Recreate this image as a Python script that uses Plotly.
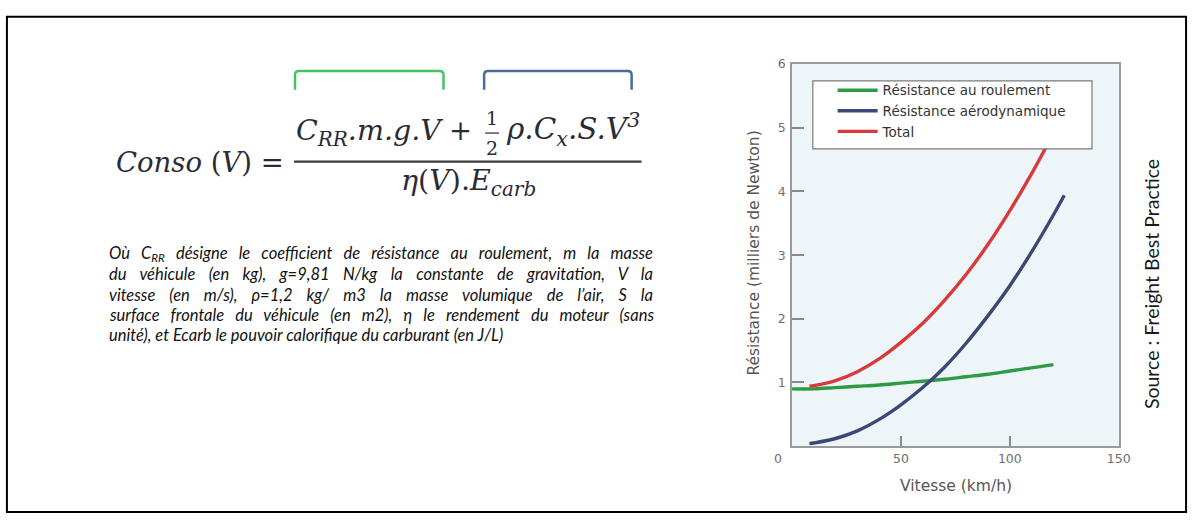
import plotly.graph_objects as go

# ---------------- data ----------------
speed_roll = [0, 10, 20, 30, 40, 50, 60, 70, 80, 90, 100, 110, 120]
roll = [0.90, 0.90, 0.92, 0.94, 0.96, 0.99, 1.02, 1.05, 1.09, 1.13, 1.18, 1.23, 1.28]

speed_aero = [8, 10, 20, 30, 40, 50, 60, 70, 80, 90, 100, 110, 120, 125]
aero = [0.04, 0.05, 0.12, 0.24, 0.42, 0.65, 0.92, 1.24, 1.62, 2.05, 2.52, 3.05, 3.63, 3.94]

speed_total = [8, 10, 20, 30, 40, 50, 60, 70, 80, 90, 100, 110, 120]
total = [0.94, 0.95, 1.03, 1.17, 1.37, 1.63, 1.93, 2.29, 2.70, 3.17, 3.70, 4.28, 4.91]

series_names = ["Résistance au roulement", "Résistance aérodynamique", "Total"]
series_colors = ["#2f9a45", "#3c4778", "#d83a3c"]

x_ticks = [50, 100, 150]
y_ticks = [1, 2, 3, 4, 5, 6]

x_title = "Vitesse (km/h)"
y_title = "Résistance (milliers de Newton)"
source_text = "Source : Freight Best Practice"

paragraph_lines = [
    "Où C<sub>RR</sub> désigne le coefficient de résistance au roulement, m la masse",
    "du véhicule (en kg), g=9,81 N/kg la constante de gravitation, V la",
    "vitesse (en m/s), ρ=1,2 kg/ m3 la masse volumique de l’air, S la",
    "surface frontale du véhicule (en m2), η le rendement du moteur (sans",
    "unité), et Ecarb le pouvoir calorifique du carburant (en J/L)",
]

# ---------------- helpers (pixel -> paper) ----------------
W, H = 1204, 520
def px(x):
    return x / W
def py(y):
    return 1 - y / H

fig = go.Figure()
for xs, ys, name, color in zip([speed_roll, speed_aero, speed_total],
                               [roll, aero, total], series_names, series_colors):
    fig.add_trace(go.Scatter(x=xs, y=ys, mode="lines", name=name,
                             line=dict(color=color, width=3.4, shape="spline")))

sans = "DejaVu Sans, Liberation Sans, Arial, sans-serif"
axis_font = dict(family=sans, size=12.5, color="#6e6e6e")

fig.update_layout(
    width=W, height=H, autosize=False,
    margin=dict(l=0, r=0, t=0, b=0),
    paper_bgcolor="white",
    plot_bgcolor="#eef5f8",
    showlegend=True,
    legend=dict(x=px(841), y=py(68), xanchor="left", yanchor="top",
                bgcolor="rgba(0,0,0,0)", borderwidth=0, itemwidth=40,
                font=dict(family=sans, size=13.5, color="#333333"),
                tracegroupgap=0),
    xaxis=dict(domain=[px(800), px(1130)], range=[0, 150], tickvals=x_ticks,
               ticks="inside", ticklen=10, tickwidth=1.5, tickcolor="#8a8a8a",
               showline=True, mirror=True, linecolor="#9a9a9a", linewidth=1.5,
               showgrid=False, zeroline=False, tickfont=axis_font,
               ticklabelstandoff=0, fixedrange=True),
    yaxis=dict(domain=[py(445), py(57)], range=[0, 6], tickvals=y_ticks,
               ticks="inside", ticklen=12, tickwidth=1.5, tickcolor="#8a8a8a",
               showline=True, mirror=True, linecolor="#9a9a9a", linewidth=1.5,
               showgrid=False, zeroline=False, tickfont=axis_font,
               ticklabelstandoff=2, fixedrange=True),
)

shapes = []
annotations = []

# paragraph first (indices 0..4, used by the justification script)
pfont = dict(family="Lato, Open Sans, sans-serif", size=16.5, color="#111111")
line_y = [249, 270, 291, 311.5, 332]
for txt, yy in zip(paragraph_lines, line_y):
    annotations.append(dict(text=f"<i>{txt}</i>", xref="paper", yref="paper",
                            x=px(108), y=py(yy), showarrow=False, xanchor="left",
                            align="left", yanchor="middle", font=pfont))

# outer frame
shapes.append(dict(type="rect", xref="paper", yref="paper",
                   x0=px(7), x1=px(1198), y0=py(512), y1=py(9),
                   line=dict(color="black", width=2), layer="below"))

# legend box (drawn above the traces, legend text on top)
shapes.append(dict(type="rect", xref="paper", yref="paper",
                   x0=px(821), x1=px(1103), y0=py(143), y1=py(74),
                   line=dict(color="#7a7a7a", width=1.2), fillcolor="white", layer="above"))

# axis titles and origin label
title_font = dict(family=sans, size=15.5, color="#555555")
annotations.append(dict(text=x_title, xref="paper", yref="paper", x=px(966), y=py(485),
                        showarrow=False, xanchor="center", yanchor="middle", font=title_font))
annotations.append(dict(text=y_title, xref="paper", yref="paper", x=px(762), y=py(249),
                        showarrow=False, textangle=-90, xanchor="center", yanchor="middle",
                        font=title_font))
annotations.append(dict(text="0", xref="paper", yref="paper", x=px(786), y=py(458),
                        showarrow=False, xanchor="center", yanchor="middle", font=axis_font))

# source
annotations.append(dict(text=source_text, xref="paper", yref="paper", x=px(1163), y=py(280),
                        showarrow=False, textangle=-90, xanchor="center", yanchor="middle",
                        font=dict(family="Lato, Open Sans, sans-serif", size=19.5, color="#1a1a1a")))

# formula
ffam = "DejaVu Serif, Liberation Serif, serif"
fcol = "#2b2b36"
fs = 27.5
annotations.append(dict(text="<i>Conso</i> (<i>V</i>) =", xref="paper", yref="paper",
                        x=px(289), y=py(156), showarrow=False, xanchor="right", yanchor="middle",
                        font=dict(family=ffam, size=fs, color=fcol)))
annotations.append(dict(text="<i>C<sub>RR</sub>.m.g.V</i>", xref="paper", yref="paper",
                        x=px(297), y=py(126), showarrow=False, xanchor="left", yanchor="middle",
                        font=dict(family=ffam, size=fs + 1, color=fcol)))
annotations.append(dict(text="+", xref="paper", yref="paper",
                        x=px(465), y=py(124), showarrow=False, xanchor="center", yanchor="middle",
                        font=dict(family=ffam, size=fs, color=fcol)))
annotations.append(dict(text="1", xref="paper", yref="paper", x=px(497), y=py(112),
                        showarrow=False, xanchor="center", yanchor="middle",
                        font=dict(family=ffam, size=19, color=fcol)))
annotations.append(dict(text="2", xref="paper", yref="paper", x=px(497), y=py(142),
                        showarrow=False, xanchor="center", yanchor="middle",
                        font=dict(family=ffam, size=19, color=fcol)))
annotations.append(dict(text="<i>ρ.C<sub>x</sub>.S.V<sup>3</sup></i>", xref="paper", yref="paper",
                        x=px(509), y=py(123), showarrow=False, xanchor="left", yanchor="middle",
                        font=dict(family=ffam, size=fs + 2, color=fcol)))
annotations.append(dict(text="<i>η</i>(<i>V</i>).<i>E<sub>carb</sub></i>", xref="paper", yref="paper",
                        x=px(473), y=py(177), showarrow=False, xanchor="center", yanchor="middle",
                        font=dict(family=ffam, size=fs + 1, color=fcol)))
# fraction bars
shapes.append(dict(type="line", xref="paper", yref="paper", x0=px(297), x1=px(648),
                   y0=py(156), y1=py(156), line=dict(color="#3a3a3a", width=2.2)))
shapes.append(dict(type="line", xref="paper", yref="paper", x0=px(490), x1=px(504),
                   y0=py(127), y1=py(127), line=dict(color="#3a3a3a", width=1.3)))

# brackets above numerator terms
def bracket(x0, x1, y_top, y_bot, color):
    r = 4
    path = (f"M {px(x0)},{py(y_bot)} L {px(x0)},{py(y_top + r)} "
            f"Q {px(x0)},{py(y_top)} {px(x0 + r)},{py(y_top)} "
            f"L {px(x1 - r)},{py(y_top)} Q {px(x1)},{py(y_top)} {px(x1)},{py(y_top + r)} "
            f"L {px(x1)},{py(y_bot)}")
    return dict(type="path", xref="paper", yref="paper", path=path,
                line=dict(color=color, width=2.5))
shapes.append(bracket(298, 448, 64, 83, "#45c267"))
shapes.append(bracket(489, 638, 64, 83, "#4e6b98"))

fig.update_layout(shapes=shapes, annotations=annotations)

# page margin reset + justification of the paragraph lines (all but the last)
post = """
document.body.style.margin='0';
document.body.style.overflow='hidden';
function justifyLines(){
  var gd=document.getElementById('{plot_id}');
  var target=544;
  [0,1,2,3].forEach(function(i){
    var g=gd.querySelector('.annotation[data-index="'+i+'"]');
    if(!g) return;
    var t=g.querySelector('text.annotation-text');
    if(!t) return;
    t.style.wordSpacing='0px';
    var len=t.getComputedTextLength();
    var n=(t.textContent.match(/ /g)||[]).length;
    if(n>0 && len<target){ t.style.wordSpacing=((target-len)/n)+'px'; }
  });
}
justifyLines();
setTimeout(justifyLines, 200);
"""
fig.write_html("out.html", post_script=post, config={"displayModeBar": False})
